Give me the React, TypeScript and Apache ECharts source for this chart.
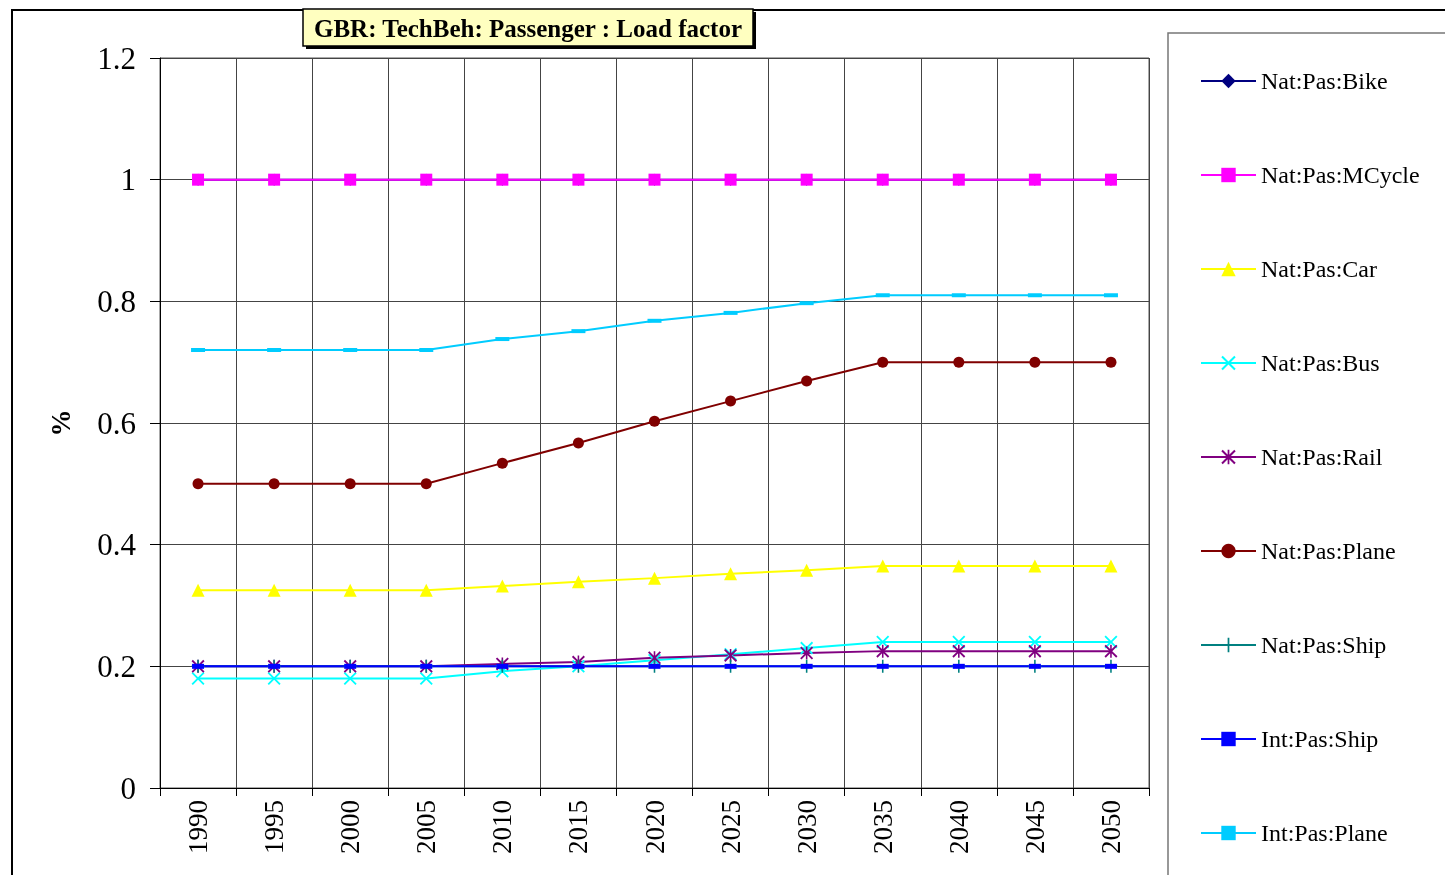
import React, { useEffect, useRef } from "react";
import * as echarts from "echarts";

const years = ["1990", "1995", "2000", "2005", "2010", "2015", "2020", "2025", "2030", "2035", "2040", "2045", "2050"];
const bike = [1, 1, 1, 1, 1, 1, 1, 1, 1, 1, 1, 1, 1];
const mcycle = [1, 1, 1, 1, 1, 1, 1, 1, 1, 1, 1, 1, 1];
const car = [0.325, 0.325, 0.325, 0.325, 0.332, 0.339, 0.345, 0.352, 0.358, 0.365, 0.365, 0.365, 0.365];
const bus = [0.18, 0.18, 0.18, 0.18, 0.192, 0.2, 0.21, 0.22, 0.23, 0.24, 0.24, 0.24, 0.24];
const rail = [0.2, 0.2, 0.2, 0.2, 0.204, 0.207, 0.214, 0.218, 0.222, 0.225, 0.225, 0.225, 0.225];
const natPlane = [0.5, 0.5, 0.5, 0.5, 0.534, 0.567, 0.603, 0.636, 0.669, 0.7, 0.7, 0.7, 0.7];
const natShip = [0.2, 0.2, 0.2, 0.2, 0.2, 0.2, 0.2, 0.2, 0.2, 0.2, 0.2, 0.2, 0.2];
const intShip = [0.2, 0.2, 0.2, 0.2, 0.2, 0.2, 0.2, 0.2, 0.2, 0.2, 0.2, 0.2, 0.2];
const intPlane = [0.72, 0.72, 0.72, 0.72, 0.738, 0.751, 0.768, 0.781, 0.797, 0.81, 0.81, 0.81, 0.81];
const yTicks = { min: 0, max: 1.2, interval: 0.2 };

const X_PATH = "path://M0,1 L1,0 L5,4 L9,0 L10,1 L6,5 L10,9 L9,10 L5,6 L1,10 L0,9 L4,5 Z";
const PLUS_PATH = "path://M4.4,0 L5.6,0 L5.6,4.4 L10,4.4 L10,5.6 L5.6,5.6 L5.6,10 L4.4,10 L4.4,5.6 L0,5.6 L0,4.4 L4.4,4.4 Z";
const STAR_PATH = "path://M0,1 L1,0 L5,4 L9,0 L10,1 L6,5 L10,9 L9,10 L5,6 L1,10 L0,9 L4,5 Z M4.4,0 L5.6,0 L5.6,10 L4.4,10 Z";

const FONT = "'Liberation Serif', 'Times New Roman', serif";

export default function App() {
  const ref = useRef<HTMLDivElement>(null);
  useEffect(() => {
    if (!ref.current) return;
    const chart = echarts.init(ref.current, undefined, { renderer: "svg" });
    const mk = (name: string, data: number[], color: string, symbol: string, size: any) => ({
      name,
      type: "line",
      data,
      color,
      symbol,
      symbolSize: size,
      showAllSymbol: true,
      lineStyle: { width: 2, color },
      itemStyle: { color },
      emphasis: { disabled: true },
    });
    chart.setOption({
      animation: false,
      textStyle: { fontFamily: FONT },
      grid: {
        left: 160,
        right: 296,
        top: 58,
        bottom: 87,
        show: true,
        borderColor: "#555",
        borderWidth: 1,
      },
      legend: {
        orient: "vertical",
        left: 1195,
        top: 64,
        itemWidth: 55,
        itemHeight: 18,
        itemGap: 70,
        textStyle: { fontFamily: FONT, fontSize: 24, color: "#000", lineHeight: 24 },
        data: ["Nat:Pas:Bike", "Nat:Pas:MCycle", "Nat:Pas:Car", "Nat:Pas:Bus", "Nat:Pas:Rail", "Nat:Pas:Plane", "Nat:Pas:Ship", "Int:Pas:Ship", "Int:Pas:Plane"],
      },
      xAxis: {
        type: "category",
        data: years,
        boundaryGap: true,
        axisLine: { lineStyle: { color: "#000", width: 1 } },
        axisTick: { show: true, length: 8, lineStyle: { color: "#000" } },
        axisLabel: { rotate: 90, fontSize: 27, color: "#000", fontFamily: FONT, margin: 12 },
        splitLine: { show: true, lineStyle: { color: "#444", width: 1 } },
      },
      yAxis: {
        type: "value",
        min: yTicks.min,
        max: yTicks.max,
        interval: yTicks.interval,
        name: "%",
        nameLocation: "middle",
        nameRotate: 90,
        nameGap: 86,
        nameTextStyle: { fontSize: 27, fontWeight: "bold", color: "#000", fontFamily: FONT },
        axisLine: { show: true, lineStyle: { color: "#000", width: 1 } },
        axisTick: { show: true, length: 10, lineStyle: { color: "#000" } },
        axisLabel: { fontSize: 31, color: "#000", fontFamily: FONT, margin: 24 },
        splitLine: { show: true, lineStyle: { color: "#444", width: 1 } },
      },
      graphic: [
        { type: "rect", shape: { x: 12, y: 10, width: 1500, height: 900 }, style: { fill: "none", stroke: "#000", lineWidth: 2 }, silent: true, z: -10 },
        { type: "rect", shape: { x: 1168, y: 33, width: 300, height: 900 }, style: { fill: "none", stroke: "#777", lineWidth: 1.5 }, silent: true },
        { type: "rect", shape: { x: 306, y: 12, width: 450, height: 37 }, style: { fill: "#000" }, silent: true },
        { type: "rect", shape: { x: 303, y: 9, width: 450, height: 37 }, style: { fill: "#FFFFC0", stroke: "#000", lineWidth: 1.5 }, silent: true },
        {
          type: "text",
          x: 528,
          y: 28,
          style: {
            text: "GBR: TechBeh: Passenger : Load factor",
            fontFamily: FONT,
            fontSize: 25,
            fontWeight: "bold",
            fill: "#000",
            align: "center",
            verticalAlign: "middle",
          },
          silent: true,
        },
      ],
      series: [
        mk("Nat:Pas:Bike", bike, "#000080", "diamond", 12),
        mk("Nat:Pas:MCycle", mcycle, "#FF00FF", "rect", 12),
        mk("Nat:Pas:Car", car, "#FFFF00", "triangle", 13),
        mk("Nat:Pas:Bus", bus, "#00FFFF", X_PATH, 13),
        mk("Nat:Pas:Rail", rail, "#800080", STAR_PATH, 13),
        mk("Nat:Pas:Plane", natPlane, "#800000", "circle", 11),
        mk("Nat:Pas:Ship", natShip, "#008080", PLUS_PATH, 13),
        mk("Int:Pas:Ship", intShip, "#0000FF", "rect", [12, 5]),
        mk("Int:Pas:Plane", intPlane, "#00CCFF", "rect", [14, 4]),
      ],
    });
    return () => chart.dispose();
  }, []);
  return <div ref={ref} style={{ position: "fixed", left: 0, top: 0, width: 1445, height: 875 }} />;
}
